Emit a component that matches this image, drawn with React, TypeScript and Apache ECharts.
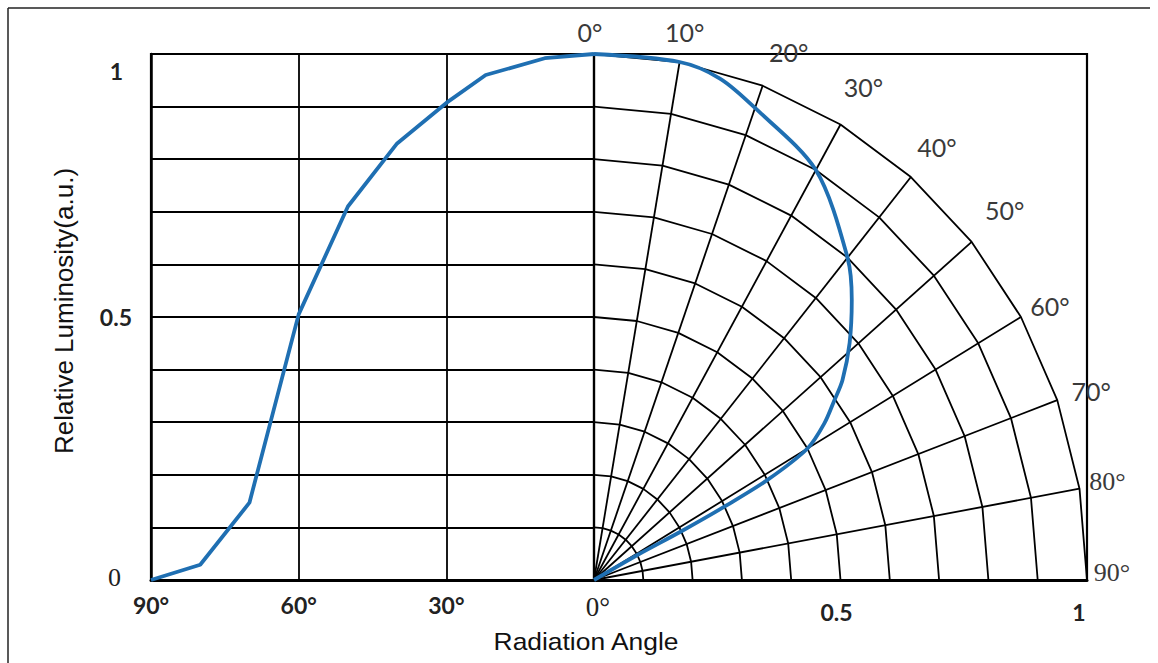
import React, { useEffect, useRef } from "react";
import * as echarts from "echarts";

// Left panel: relative luminosity vs. radiation angle (degrees)
const profileAngles = [0, 10, 22, 30, 40, 50, 60, 70, 80, 90];
const profileValues = [1.0, 0.992, 0.96, 0.907, 0.83, 0.71, 0.505, 0.147, 0.029, 0.0];

// Right panel: polar radiation pattern (angle from axis in degrees, relative radius)
const polarAngles = [0, 10, 15, 20, 30, 40, 44.5, 49, 53, 55, 57.5, 60, 61.6, 62.2, 62.4, 61.6, 62];
const polarRadii = [1.0, 1.0, 0.987, 0.955, 0.9, 0.8, 0.746, 0.687, 0.631, 0.595, 0.554, 0.5, 0.4, 0.3, 0.2, 0.1, 0];

// Polar grid definition
const ringRadii = [0.1, 0.2, 0.3, 0.4, 0.5, 0.6, 0.7, 0.8, 0.9, 1.0];
const gridAngles = [0, 10, 20, 30, 40, 50, 60, 70, 80, 90];
const angleLabels = ["0°", "10°", "20°", "30°", "40°", "50°", "60°", "70°", "80°", "90°"];

// label layout (pixel offsets from the outer ring corner)
const labelOffsets = [
  [-4, -22], [5, -30], [26, -34], [23, -37], [26, -30],
  [33, -32], [29, -11], [34, -9], [28, -7], [25, -8],
];

const BLUE = "#1f6fb2";
const LABEL_GRAY = "#3a3a3a";
const rad = (d: number) => (d * Math.PI) / 180;
const toXY = (a: number, r: number) => [r * Math.sin(rad(a)), r * Math.cos(rad(a))];

export default function App() {
  const ref = useRef<HTMLDivElement>(null);

  useEffect(() => {
    if (!ref.current) return;
    const chart = echarts.init(ref.current, undefined, { renderer: "svg" });

    const gridLineStyle = { color: "#000", width: 1.8 };

    const ringSeries = ringRadii.map((r) => ({
      type: "line",
      xAxisIndex: 1,
      yAxisIndex: 1,
      data: gridAngles.map((a) => toXY(a, r)),
      symbol: "none",
      silent: true,
      lineStyle: gridLineStyle,
      z: 2,
    }));

    const radialSeries = gridAngles.map((a) => ({
      type: "line",
      xAxisIndex: 1,
      yAxisIndex: 1,
      data: [[0, 0], toXY(a, 1)],
      symbol: "none",
      silent: true,
      lineStyle: gridLineStyle,
      z: 2,
    }));

    const boldLabel = { fontFamily: "Lato", fontWeight: "bold", fontSize: 23, color: "#222" };

    const baseGraphic: any[] = [
      { type: "line", shape: { x1: 8, y1: 8, x2: 1150, y2: 8 }, style: { stroke: "#222", lineWidth: 1.5 }, silent: true },
      { type: "line", shape: { x1: 8, y1: 8, x2: 8, y2: 663 }, style: { stroke: "#222", lineWidth: 1.5 }, silent: true },
      {
        type: "text",
        x: 586,
        y: 641,
        scaleX: 1.1,
        style: {
          text: "Radiation Angle",
          fontFamily: "Liberation Sans",
          fontSize: 24,
          fill: "#111",
          align: "center",
          verticalAlign: "middle",
        },
        silent: true,
      },
      {
        type: "text",
        x: 64,
        y: 311,
        rotation: Math.PI / 2,
        style: {
          text: "Relative Luminosity(a.u.)",
          fontFamily: "Liberation Sans",
          fontSize: 26,
          fill: "#111",
          align: "center",
          verticalAlign: "middle",
        },
        silent: true,
      },
    ];

    const option: any = {
      animation: false,
      backgroundColor: "#fff",
      grid: [
        { left: 151, top: 54, width: 443, height: 526, show: true, borderColor: "#000", borderWidth: 2.2 },
        { left: 594, top: 54, width: 493, height: 526, show: true, borderColor: "#000", borderWidth: 2.2 },
      ],
      xAxis: [
        {
          type: "value",
          gridIndex: 0,
          min: 0,
          max: 90,
          interval: 30,
          inverse: true,
          axisLine: { show: true, onZero: false, lineStyle: { color: "#000", width: 3 } },
          axisTick: { show: false },
          splitLine: { show: true, lineStyle: gridLineStyle },
          axisLabel: {
            margin: 13,
            formatter: (v: number) => (v === 0 ? "{s|0°}" : `{b|${v}°}`),
            rich: {
              b: boldLabel,
              s: { fontFamily: "Liberation Serif", fontSize: 27, color: "#222", padding: [0, 0, 0, 8] },
            },
          },
        },
        {
          type: "value",
          gridIndex: 1,
          min: 0,
          max: 1,
          interval: 0.5,
          axisLine: { show: true, onZero: false, lineStyle: { color: "#000", width: 3 } },
          axisTick: { show: false },
          splitLine: { show: false },
          axisLabel: {
            margin: 20,
            formatter: (v: number) =>
              Math.abs(v - 0.5) < 1e-6 ? "{b|0.5}" : Math.abs(v - 1) < 1e-6 ? "{e|1}" : "",
            rich: {
              b: { ...boldLabel, padding: [0, 8, 0, 0] },
              e: { ...boldLabel, padding: [0, 16, 0, 0] },
            },
          },
        },
      ],
      yAxis: [
        {
          type: "value",
          gridIndex: 0,
          min: 0,
          max: 1,
          interval: 0.1,
          axisLine: { show: true, onZero: false, lineStyle: { color: "#000", width: 2.5 } },
          axisTick: { show: false },
          splitLine: { show: true, lineStyle: gridLineStyle },
          axisLabel: {
            margin: 19,
            formatter: (v: number) => {
              if (Math.abs(v - 1) < 1e-6) return "{t|1}";
              if (Math.abs(v - 0.5) < 1e-6) return "{b|0.5}";
              if (Math.abs(v) < 1e-6) return "{s|0}";
              return "";
            },
            rich: {
              t: { ...boldLabel, padding: [34, 9, 0, 0] },
              b: boldLabel,
              s: { fontFamily: "Liberation Serif", fontSize: 26, color: "#222", padding: [0, 11, 6, 0] },
            },
          },
        },
        {
          type: "value",
          gridIndex: 1,
          min: 0,
          max: 1,
          show: false,
          splitLine: { show: false },
        },
      ],
      series: [
        ...ringSeries,
        ...radialSeries,
        {
          type: "line",
          name: "profile",
          xAxisIndex: 0,
          yAxisIndex: 0,
          data: profileAngles.map((a, i) => [a, profileValues[i]]),
          symbol: "none",
          silent: true,
          lineStyle: { color: BLUE, width: 3.8 },
          z: 5,
        },
        {
          type: "line",
          name: "polar",
          xAxisIndex: 1,
          yAxisIndex: 1,
          data: polarAngles.map((a, i) => toXY(a, polarRadii[i])),
          symbol: "none",
          smooth: 0.3,
          silent: true,
          lineStyle: { color: BLUE, width: 3.8 },
          z: 5,
        },
      ],
      graphic: baseGraphic,
    };

    chart.setOption(option);

    // angle labels placed through the right grid's scales
    const angleTexts = gridAngles.map((a, i) => {
      const p = chart.convertToPixel({ gridIndex: 1 }, toXY(a, 1)) as number[];
      const serif = a >= 80;
      return {
        type: "text",
        x: p[0] + labelOffsets[i][0],
        y: p[1] + labelOffsets[i][1],
        silent: true,
        style: {
          text: angleLabels[i],
          fontFamily: serif ? "Liberation Serif" : "Lato",
          fontSize: serif ? 26 : 25,
          fill: LABEL_GRAY,
          align: "center",
          verticalAlign: "middle",
        },
      };
    });
    chart.setOption({ graphic: [...baseGraphic, ...angleTexts] });

    return () => chart.dispose();
  }, []);

  return (
    <div
      ref={ref}
      style={{ position: "absolute", left: 0, top: 0, width: 1158, height: 663, background: "#fff" }}
    />
  );
}
